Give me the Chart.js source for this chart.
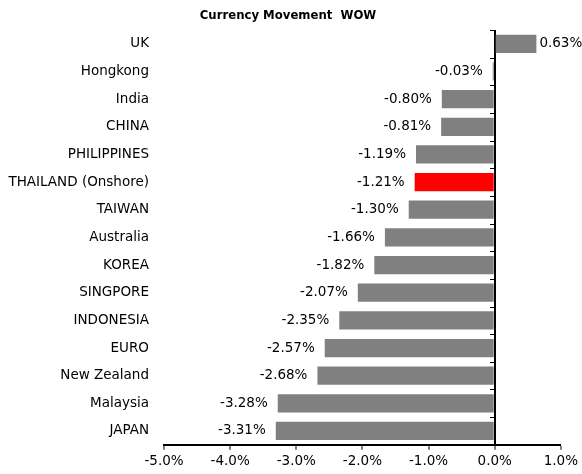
<!DOCTYPE html>
<html>
<head>
<meta charset="utf-8">
<script src="https://cdn.jsdelivr.net/npm/chart.js@4"></script>
<style>
html,body{margin:0;padding:0;background:#fff;}
#wrap{width:582px;height:474px;}
</style>
</head>
<body>
<div id="wrap"><canvas id="c" width="582" height="474"></canvas></div>
<script>
const categories = ["UK","Hongkong","India","CHINA","PHILIPPINES","THAILAND (Onshore)","TAIWAN","Australia","KOREA","SINGPORE","INDONESIA","EURO","New Zealand","Malaysia","JAPAN"];
const values = [0.63,-0.03,-0.80,-0.81,-1.19,-1.21,-1.30,-1.66,-1.82,-2.07,-2.35,-2.57,-2.68,-3.28,-3.31];
const highlight = "THAILAND (Onshore)";
const xTicks = [-5,-4,-3,-2,-1,0,1];
const titleText = 'Currency Movement  WOW';

const FONT = "'DejaVu Sans', Verdana, sans-serif";
const TFONT = "'DejaVu Sans Condensed', 'DejaVu Sans', sans-serif";
const FS = 13.5;
const colors = categories.map(c => c === highlight ? '#FF0000' : '#808080');

const labelPlugin = {
  id: 'barLabels',
  afterDatasetsDraw(chart) {
    const ctx = chart.ctx;
    const meta = chart.getDatasetMeta(0);
    ctx.save();
    ctx.font = FS + 'px ' + FONT;
    ctx.fillStyle = '#000';
    ctx.textBaseline = 'middle';
    meta.data.forEach((bar, i) => {
      const v = values[i];
      const txt = v.toFixed(2) + '%';
      if (v >= 0) { ctx.textAlign = 'left'; ctx.fillText(txt, bar.x + 3, bar.y); }
      else { ctx.textAlign = 'right'; ctx.fillText(txt, bar.x - 10, bar.y); }
    });
    const xs = chart.scales.x, ys = chart.scales.y;
    const x0 = Math.round(xs.getPixelForValue(0));
    const step = ys.getPixelForValue(1) - ys.getPixelForValue(0);
    ctx.strokeStyle = '#000';
    ctx.lineWidth = 1;
    for (let i = 0; i <= categories.length; i++) {
      const y = Math.round(ys.getPixelForValue(0) - step / 2 + i * step) + 0.5;
      ctx.beginPath(); ctx.moveTo(x0 - 5, y); ctx.lineTo(x0, y); ctx.stroke();
    }
    // title
    ctx.font = 'bold 13px ' + TFONT;
    ctx.textAlign = 'center';
    ctx.textBaseline = 'middle';
    ctx.fillText(titleText, 288, 16);
    ctx.restore();
  }
};

new Chart(document.getElementById('c'), {
  type: 'bar',
  data: {
    labels: categories,
    datasets: [{
      data: values,
      backgroundColor: colors,
      borderWidth: 0,
      barPercentage: 0.66,
      categoryPercentage: 1.0
    }]
  },
  plugins: [labelPlugin],
  options: {
    indexAxis: 'y',
    responsive: false,
    animation: false,
    devicePixelRatio: 1,
    layout: { padding: { left: 0, right: 19, top: 30, bottom: 0 } },
    plugins: {
      legend: { display: false },
      tooltip: { enabled: false },
      title: { display: false }
    },
    scales: {
      x: {
        min: -5, max: 1,
        afterBuildTicks(scale) { scale.ticks = xTicks.map(v => ({ value: v })); },
        ticks: {
          color: '#000',
          font: { family: FONT, size: FS },
          padding: 4,
          maxRotation: 0,
          callback: v => Number(v).toFixed(1) + '%'
        },
        grid: {
          color: c => (c.tick && c.tick.value === 0) ? '#000' : 'rgba(0,0,0,0)',
          lineWidth: c => (c.tick && c.tick.value === 0) ? 2 : 0,
          tickColor: '#000',
          tickLength: 5,
          tickWidth: 1
        },
        border: { display: true, color: '#000', width: 2 }
      },
      y: {
        afterFit(scale) { scale.width = 164; },
        ticks: {
          color: '#000',
          font: { family: FONT, size: FS },
          padding: 15,
          autoSkip: false
        },
        grid: { display: false, drawTicks: false },
        border: { display: false }
      }
    }
  }
});
</script>
</body>
</html>
